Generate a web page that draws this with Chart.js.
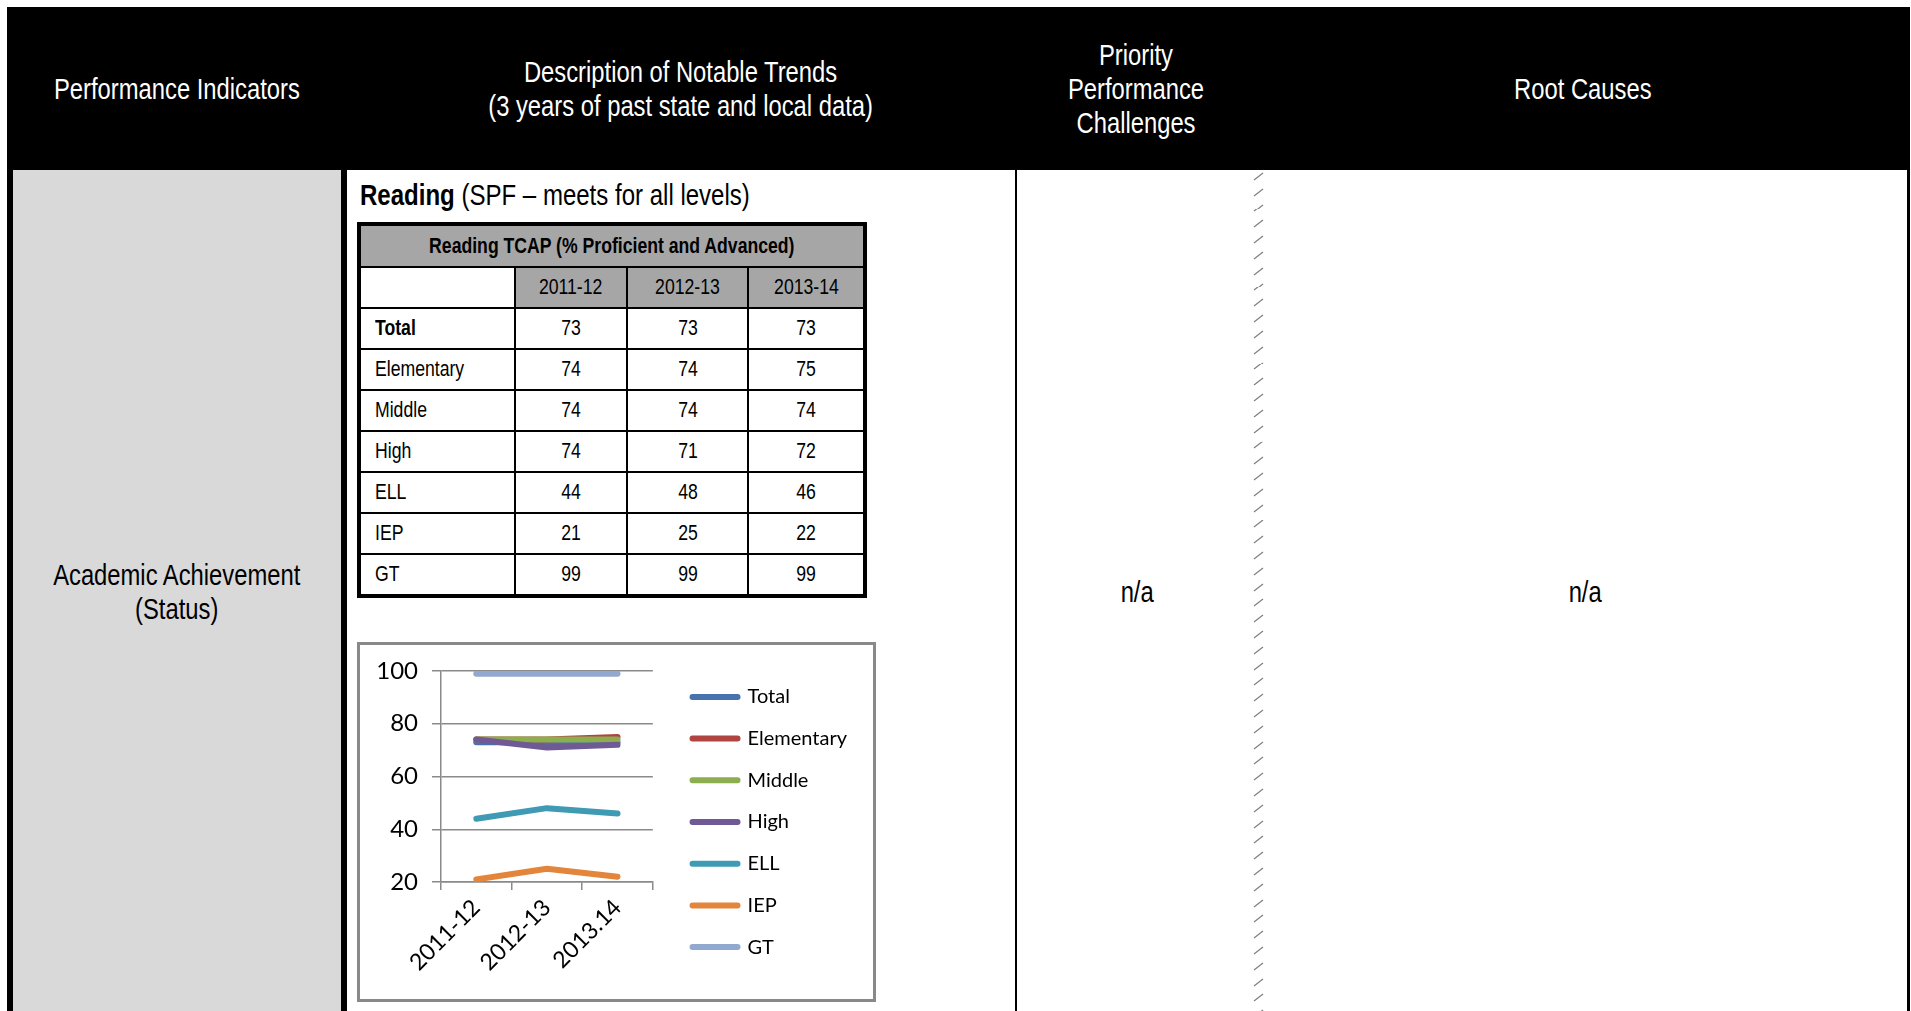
<!DOCTYPE html>
<html>
<head>
<meta charset="utf-8">
<script src="https://cdn.jsdelivr.net/npm/chart.js@4.4.1/dist/chart.umd.min.js"></script>
<style>
  html, body { margin: 0; padding: 0; background: #fff; }
  body { width: 1911px; height: 1011px; position: relative; overflow: hidden;
         font-family: "Liberation Sans", Arial, sans-serif; color: #000; }
  /* Arial Narrow is not installed: squeeze Liberation Sans instead */
  .n { display: inline-block; transform: scaleX(0.82); transform-origin: center; white-space: nowrap; text-align: center; }
  .nl { transform-origin: left center; text-align: left; }
  .blk { position: absolute; background: #000; }
  .hcell { position: absolute; top: 7px; height: 163px; display: flex; align-items: center; justify-content: center;
           color: #fff; font-size: 29px; line-height: 34px; }
  .bcell { position: absolute; top: 170px; height: 844px; display: flex; align-items: center; justify-content: center;
           font-size: 29px; line-height: 34px; }
  #dash { position: absolute; left: 1253px; top: 170px; width: 12px; height: 841px;
          background-image: url("data:image/svg+xml,%3Csvg xmlns='http://www.w3.org/2000/svg' width='12' height='16'%3E%3Cline x1='1' y1='10' x2='10' y2='3' stroke='%23808080' stroke-width='1.2'/%3E%3C/svg%3E");
          background-size: 12px 15.8px; background-repeat: repeat-y; }
  #reading { position: absolute; left: 360px; top: 178px; font-size: 29.3px; line-height: 34px; }
  #tcap { position: absolute; left: 357px; top: 222px; border-collapse: collapse; table-layout: fixed;
          border: 4px solid #000; font-size: 21.5px; }
  #tcap td, #tcap th { border: 2px solid #000; padding: 0; text-align: center; height: 39px; }
  #tcap th { background: #a6a6a6; font-weight: bold; height: 40px; }
  #tcap td.g { background: #a6a6a6; }
  #tcap td.lbl { text-align: left; padding-left: 14px; }
  #tcap td.b { font-weight: bold; }
  #box { position: absolute; left: 357px; top: 642px; width: 519px; height: 360px; box-sizing: border-box;
         border: 3px solid #898989; background: #fff; }
  #chart { display: block; }
</style>
</head>
<body>
<div class="blk" style="left:7px;top:7px;width:1903px;height:163px"></div>
<div class="hcell" style="left:7px;width:340px"><span class="n">Performance Indicators</span></div>
<div class="hcell" style="left:347px;width:668px"><span class="n">Description of Notable Trends<br>(3 years of past state and local data)</span></div>
<div class="hcell" style="left:1015px;width:243px"><span class="n">Priority<br>Performance<br>Challenges</span></div>
<div class="hcell" style="left:1258px;width:649px"><span class="n">Root Causes</span></div>

<div class="blk" style="left:7px;top:170px;width:6px;height:841px"></div>
<div style="position:absolute;left:13px;top:170px;width:328px;height:841px;background:#d9d9d9"></div>
<div class="blk" style="left:341px;top:170px;width:6px;height:841px"></div>
<div class="blk" style="left:1015px;top:170px;width:2px;height:841px"></div>
<div class="blk" style="left:1907px;top:170px;width:3px;height:841px"></div>
<div id="dash"></div>

<div class="bcell" style="left:13px;width:328px"><span class="n">Academic Achievement<br>(Status)</span></div>
<div class="bcell" style="left:1019px;width:237px"><span class="n">n/a</span></div>
<div class="bcell" style="left:1263px;width:644px"><span class="n">n/a</span></div>

<div id="reading"><span class="n nl"><b>Reading</b> (SPF – meets for all levels)</span></div>
<table id="tcap">
  <colgroup><col style="width:156px"><col style="width:112px"><col style="width:121px"><col style="width:117px"></colgroup>
  <tbody id="tbody"></tbody>
</table>

<div id="box"><canvas id="chart" width="513" height="354"></canvas></div>

<script>
const tableTitle = 'Reading TCAP (% Proficient and Advanced)';
const tableYears = ['2011-12', '2012-13', '2013-14'];
const chartYears = ['2011-12', '2012-13', '2013.14'];
const groups = ['Total', 'Elementary', 'Middle', 'High', 'ELL', 'IEP', 'GT'];

const total = [73, 73, 73];
const elementary = [74, 74, 75];
const middle = [74, 74, 74];
const high = [74, 71, 72];
const ell = [44, 48, 46];
const iep = [21, 25, 22];
const gt = [99, 99, 99];

const yTicks = [20, 40, 60, 80, 100];

const series = [total, elementary, middle, high, ell, iep, gt];
const colores = ['#4673AF', '#B04440', '#8DAE4F', '#705A96', '#3F9AB4', '#E3853A', '#91A8CF'];

// tabla
let filas = `<tr><th colspan="4"><span class="n">${tableTitle}</span></th></tr>`;
filas += `<tr><td class="lbl"></td>${tableYears.map(y => `<td class="g"><span class="n">${y}</span></td>`).join('')}</tr>`;
groups.forEach((g, i) => {
    filas += `<tr><td class="lbl${i === 0 ? ' b' : ''}"><span class="n nl">${g}</span></td>`;
    filas += series[i].map(v => `<td><span class="n">${v}</span></td>`).join('') + '</tr>';
});
document.querySelector('#tbody').innerHTML = filas;

// grafico
const fuente = 'Lato, "Open Sans", sans-serif';
const gris = '#8a8a8a';

const datasets = groups.map((g, i) => ({
    label: g,
    data: series[i],
    borderColor: colores[i],
    backgroundColor: colores[i],
    borderWidth: 6,
    borderCapStyle: 'round',
    borderJoinStyle: 'round',
    pointRadius: 0,
    pointHoverRadius: 0,
    tension: 0,
    order: groups.length - i,   // later series on top, like the original
    xAxisID: 'x',
    yAxisID: 'y'
}));

new Chart(document.querySelector('#chart'), {
    type: 'line',
    data: { labels: chartYears, datasets },
    options: {
        responsive: false,
        animation: false,
        devicePixelRatio: 1,
        layout: { padding: { left: 0, right: 16, top: 0, bottom: 0 } },
        plugins: {
            legend: {
                position: 'right',
                maxWidth: 300,
                labels: {
                    boxWidth: 45,
                    boxHeight: 0,
                    padding: 21.7,
                    color: '#000',
                    font: { family: fuente, size: 20 },
                    sort: (a, b) => a.datasetIndex - b.datasetIndex
                }
            },
            tooltip: { enabled: false }
        },
        scales: {
            x: {
                offset: true,
                grid: { offset: true, drawOnChartArea: false, tickLength: 8, color: gris, lineWidth: 1.5 },
                border: { color: gris, width: 1.5 },
                ticks: { minRotation: 45, maxRotation: 45, padding: 4, color: '#000', font: { family: fuente, size: 23 } },
                afterFit: (s) => { s.height = 117; }
            },
            y: {
                min: 20,
                max: 100,
                afterBuildTicks: (s) => { s.ticks = yTicks.map(v => ({ value: v })); },
                grid: { tickLength: 9, color: gris, lineWidth: 1.5 },
                border: { color: gris, width: 1.5 },
                ticks: { padding: 14, color: '#000', font: { family: fuente, size: 24 } },
                afterFit: (s) => { s.width = 81; s.paddingTop = 10; s.paddingBottom = 10; }
            },
            // empty boxes just to reserve space like the original plot area
            xTop: {
                axis: 'x', position: 'top', display: true,
                grid: { display: false }, border: { display: false }, ticks: { display: false },
                afterFit: (s) => { s.height = 26; }
            },
            ySpace: {
                axis: 'y', position: 'right', display: true,
                grid: { display: false }, border: { display: false }, ticks: { display: false },
                afterFit: (s) => { s.width = 18; }
            }
        }
    }
});
</script>
</body>
</html>
